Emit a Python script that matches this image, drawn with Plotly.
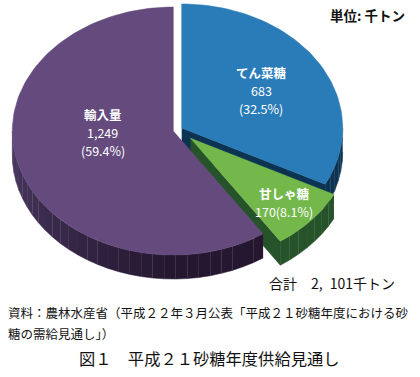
import numpy as np
import plotly.graph_objects as go

# ---------------- data ----------------
categories = ["てん菜糖", "甘しゃ糖", "輸入量"]
values = [683, 170, 1249]
value_labels = ["683", "170", "1,249"]
percent_labels = ["32.5%", "8.1%", "59.4%"]
unit_label = "単位: 千トン"
total_label = "合計  2, 101千トン"
source_lines = ["資料：農林水産省（平成２２年３月公表「平成２１砂糖年度における砂",
                "糖の需給見通し」）"]
caption = "図１　平成２１砂糖年度供給見通し"

# ---------------- style ----------------
top_colors = ["#2a7cb9", "#74b84c", "#654b7d"]
side_dark = ["#0c3452", "#27532a", "#24172f"]
side_light = ["#0f3d60", "#2d5c2c", "#4b3a64"]
explode = [2, 14, 7]
label_radius = [0.58, 0.78, 0.44]
label_angle_shift = [0, 0, 15]
label_layout = ["stack", "pair", "stack"]
LINE_GAP = 18
FONT = "Noto Sans CJK JP"
CX, CY, RX, RY, DEPTH = 180.0, 129.0, 161.0, 124.0, 24.0
W, H = 420, 377

total = float(sum(values))
fracs = [v / total for v in values]
starts = np.concatenate([[0.0], np.cumsum(fracs)[:-1]]) * 2 * np.pi
ends = np.cumsum(fracs) * 2 * np.pi


def pt(cx, cy, th):
    return cx + RX * np.sin(th), cy - RY * np.cos(th)


def hex2rgb(h):
    h = h.lstrip("#")
    return [int(h[i:i + 2], 16) for i in (0, 2, 4)]


def mix(a, b, t):
    ra, rb = hex2rgb(a), hex2rgb(b)
    return "rgb(%d,%d,%d)" % tuple(round(ra[i] + (rb[i] - ra[i]) * t) for i in range(3))


def nb(s, sp="\u00a0"):
    return s.replace(" ", sp)


centers = []
for i in range(len(values)):
    mid = (starts[i] + ends[i]) / 2
    centers.append((CX + explode[i] * np.sin(mid), CY - explode[i] * np.cos(mid)))

fig = go.Figure()


def poly(xs, ys, color):
    fig.add_trace(go.Scatter(x=list(xs), y=list(ys), mode="lines", fill="toself",
                             fillcolor=color, line=dict(width=0.5, color=color),
                             hoverinfo="skip", showlegend=False))


# radial walls (back-most)
for i in range(len(values)):
    cx, cy = centers[i]
    for th, vis in ((starts[i], np.sin(starts[i]) < -1e-6), (ends[i], np.sin(ends[i]) > 1e-6)):
        if vis:
            ex, ey = pt(cx, cy, th)
            poly([cx, ex, ex, cx], [cy, ey, ey + DEPTH, cy + DEPTH], side_dark[i])

# outer curved sides (front half only), shaded by angle
for i in range(len(values)):
    cx, cy = centers[i]
    a = max(starts[i], np.pi / 2)
    b = min(ends[i], 3 * np.pi / 2)
    if a >= b:
        continue
    nseg = max(2, int((b - a) / np.radians(4)))
    edges = np.linspace(a, b, nseg + 1)
    for k in range(nseg):
        th = np.linspace(edges[k], edges[k + 1], 6)
        xs, ys = pt(cx, cy, th)
        t = np.clip((np.degrees((edges[k] + edges[k + 1]) / 2) - 180) / 90, 0, 1)
        col = mix(side_dark[i], side_light[i], t)
        poly(np.concatenate([xs, xs[::-1]]), np.concatenate([ys, ys[::-1] + DEPTH]), col)

# top surfaces
for i in range(len(values)):
    cx, cy = centers[i]
    n = max(8, int(200 * fracs[i]))
    th = np.linspace(starts[i], ends[i], n)
    xs, ys = pt(cx, cy, th)
    poly(np.concatenate([[cx], xs, [cx]]), np.concatenate([[cy], ys, [cy]]), top_colors[i])

annotations = []
for i in range(len(values)):
    cx, cy = centers[i]
    ang = (starts[i] + ends[i]) / 2 + np.radians(label_angle_shift[i])
    lx = cx + label_radius[i] * RX * np.sin(ang)
    ly = cy - label_radius[i] * RY * np.cos(ang)
    if label_layout[i] == "stack":
        lines = ["<b>" + categories[i] + "</b>", value_labels[i], "(" + percent_labels[i] + ")"]
    else:
        lines = ["<b>" + categories[i] + "</b>", value_labels[i] + "(" + percent_labels[i] + ")"]
    n = len(lines)
    for k, ln in enumerate(lines):
        annotations.append(dict(x=lx, y=ly + (k - (n - 1) / 2) * LINE_GAP, xref="x", yref="y",
                                text=ln, showarrow=False, borderpad=0,
                                font=dict(family=FONT, size=12.5, color="white"),
                                xanchor="center", yanchor="middle", align="center"))

annotations.append(dict(x=407, y=15, xref="x", yref="y", text="<b>" + nb(unit_label) + "</b>", showarrow=False,
                        font=dict(family=FONT, size=13.5, color="#111"), xanchor="right", yanchor="middle"))
annotations.append(dict(x=397, y=283, xref="x", yref="y", text=nb(total_label, "\u2002"), showarrow=False,
                        font=dict(family=FONT, size=14, color="#111"), xanchor="right", yanchor="middle"))
for j, line in enumerate(source_lines):
    annotations.append(dict(x=7, y=312 + 21 * j, xref="x", yref="y", text=line, showarrow=False,
                            borderpad=0,
                            font=dict(family=FONT, size=12.5, color="#111"), xanchor="left", yanchor="middle"))
annotations.append(dict(x=209, y=358, xref="x", yref="y", text=caption, showarrow=False,
                        font=dict(family=FONT, size=16.3, color="#111"), xanchor="center", yanchor="middle"))

fig.update_layout(
    width=W, height=H, margin=dict(l=0, r=0, t=0, b=0),
    paper_bgcolor="white", plot_bgcolor="white", showlegend=False,
    xaxis=dict(range=[0, W], visible=False, fixedrange=True),
    yaxis=dict(range=[H, 0], visible=False, fixedrange=True),
    annotations=annotations,
)

fig.write_html("out.html", config={"displayModeBar": False},
               post_script="document.body.style.margin='0';document.body.style.overflow='hidden';")
